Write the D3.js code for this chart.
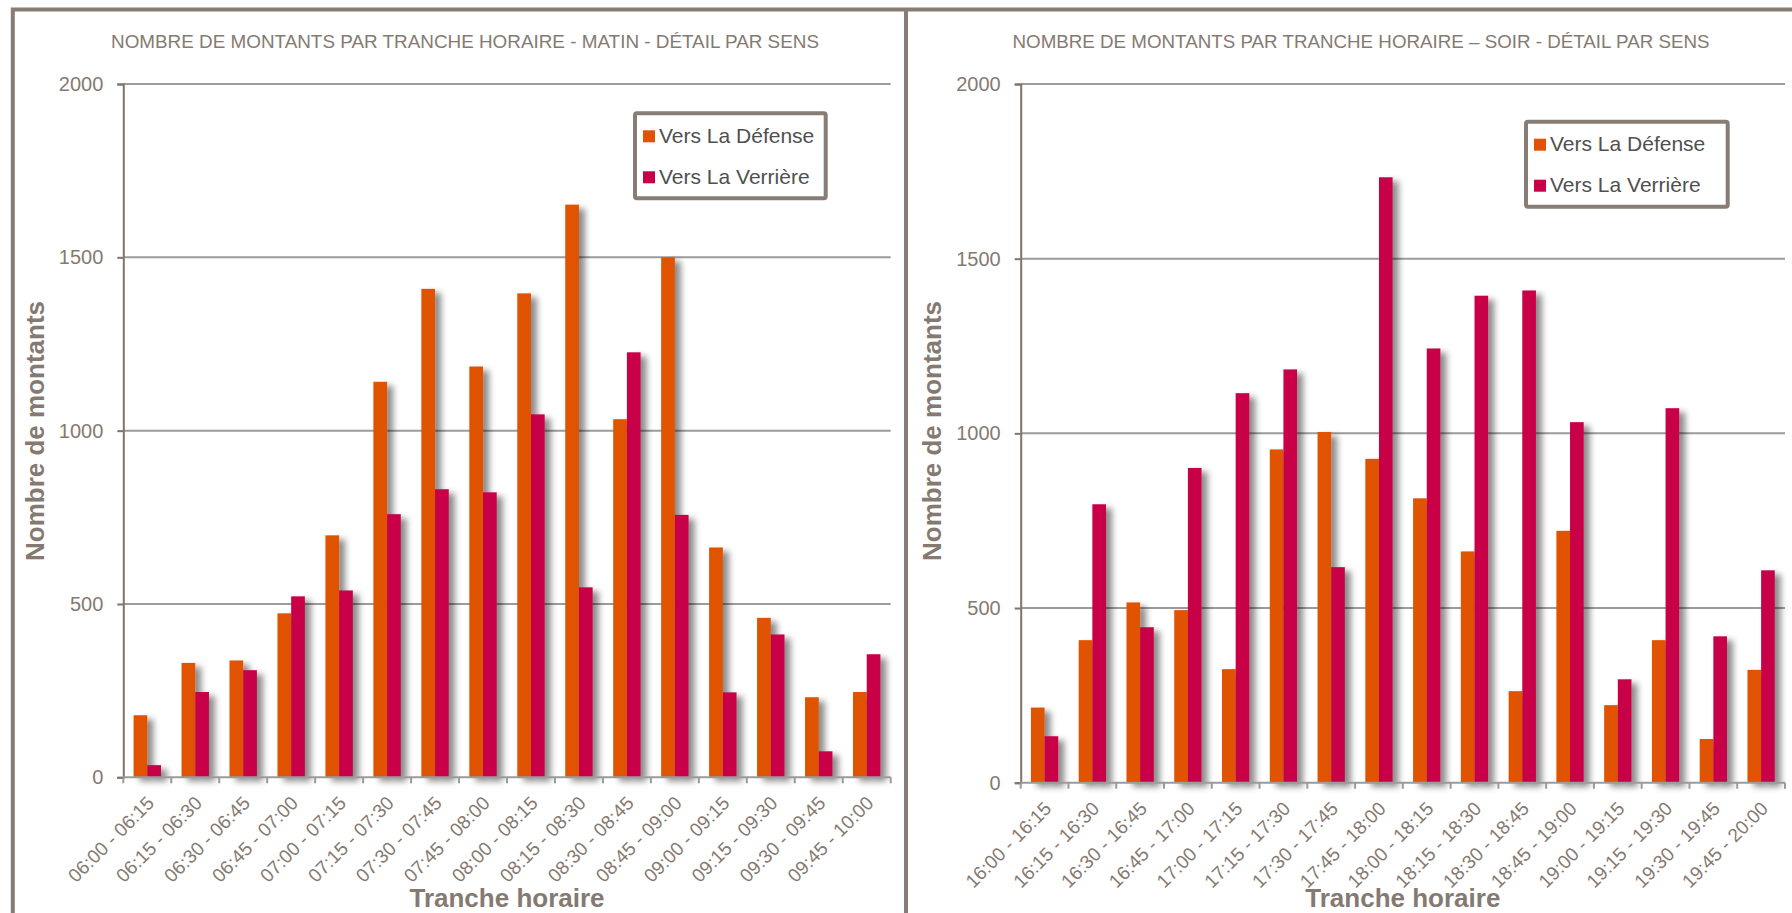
<!DOCTYPE html>
<html>
<head>
<meta charset="utf-8">
<script src="https://cdn.jsdelivr.net/npm/d3@7"></script>
<style>
  html, body { margin: 0; padding: 0; background: #ffffff; }
  svg { display: block; }
</style>
</head>
<body>
<svg id="chart" width="1792" height="913"></svg>
<script>
// Boardings per 15-minute slot, by direction
const seriesNames = ["Vers La Défense", "Vers La Verrière"];
const seriesColors = ["#e05206", "#c80046"];

const matinCategories = [
  "06:00 - 06:15", "06:15 - 06:30", "06:30 - 06:45", "06:45 - 07:00",
  "07:00 - 07:15", "07:15 - 07:30", "07:30 - 07:45", "07:45 - 08:00",
  "08:00 - 08:15", "08:15 - 08:30", "08:30 - 08:45", "08:45 - 09:00",
  "09:00 - 09:15", "09:15 - 09:30", "09:30 - 09:45", "09:45 - 10:00"
];
const matinDefense  = [179, 330, 337, 473, 698, 1141, 1409, 1185, 1396, 1652, 1033, 1500, 663, 460, 231, 246];
const matinVerriere = [35, 246, 309, 522, 539, 759, 831, 822, 1047, 548, 1226, 757, 245, 412, 75, 355];

const soirCategories = [
  "16:00 - 16:15", "16:15 - 16:30", "16:30 - 16:45", "16:45 - 17:00",
  "17:00 - 17:15", "17:15 - 17:30", "17:30 - 17:45", "17:45 - 18:00",
  "18:00 - 18:15", "18:15 - 18:30", "18:30 - 18:45", "18:45 - 19:00",
  "19:00 - 19:15", "19:15 - 19:30", "19:30 - 19:45", "19:45 - 20:00"
];
const soirDefense  = [215, 408, 516, 494, 325, 954, 1004, 927, 814, 662, 262, 721, 222, 408, 125, 323];
const soirVerriere = [133, 797, 445, 901, 1115, 1183, 617, 1733, 1243, 1394, 1409, 1032, 296, 1072, 419, 608];

const yTicks = [0, 500, 1000, 1500, 2000];
const yLabel = "Nombre de montants";
const xLabel = "Tranche horaire";
const titleMatin = "NOMBRE DE MONTANTS PAR TRANCHE HORAIRE - MATIN - DÉTAIL PAR SENS";
const titleSoir  = "NOMBRE DE MONTANTS PAR TRANCHE HORAIRE \u2013 SOIR - DÉTAIL PAR SENS";

const svg = d3.select("#chart");
const TEXT = "#857a71";
const FRAME = "#877d74";

// soft shadow cast to the right of every bar
const defs = svg.append("defs");
const f = defs.append("filter").attr("id", "barShadow")
  .attr("x", "-20%").attr("y", "-5%").attr("width", "180%").attr("height", "115%");
f.append("feDropShadow").attr("dx", 6).attr("dy", 4).attr("stdDeviation", 3)
  .attr("flood-color", "#000").attr("flood-opacity", 0.45);

// outer frames
svg.append("path")
  .attr("d", "M12.8,913 V9.5 H1800 M906,9.5 V913")
  .attr("fill", "none").attr("stroke", FRAME).attr("stroke-width", 4);

function drawPanel(p) {
  const g = svg.append("g");
  const x = d3.scaleBand().domain(p.categories).range([p.left, p.right]).padding(0);
  const sub = d3.scaleBand().domain([0, 1]).range([0, x.bandwidth()])
    .paddingInner(0).paddingOuter(0.75);
  const y = d3.scaleLinear().domain([0, 2000]).range([p.bottom, p.top]);

  // title
  g.append("text")
    .attr("x", p.titleX).attr("y", 48)
    .attr("text-anchor", "middle")
    .attr("font-family", "'Liberation Sans Narrow', 'Liberation Sans', Arial, sans-serif")
    .attr("font-size", 19).attr("fill", TEXT)
    .attr("textLength", p.titleW).attr("lengthAdjust", "spacingAndGlyphs")
    .text(p.title);

  // horizontal gridlines
  g.append("g").selectAll("line").data(yTicks.filter(d => d > 0)).join("line")
    .attr("x1", p.left).attr("x2", p.right)
    .attr("y1", d => y(d)).attr("y2", d => y(d))
    .attr("stroke", "#9b9b9b").attr("stroke-width", 2);

  // y axis
  const yAxis = d3.axisLeft(y).tickValues(yTicks).tickSize(6).tickPadding(14)
    .tickFormat(d3.format("d"));
  const ya = g.append("g").attr("transform", `translate(${p.left},0)`).call(yAxis);
  ya.select(".domain").attr("stroke", "#7f756c").attr("stroke-width", 2);
  ya.selectAll(".tick line").attr("stroke", "#7f756c").attr("stroke-width", 2);
  ya.selectAll(".tick text")
    .attr("font-family", "'Liberation Sans', Arial, sans-serif")
    .attr("font-size", 20).attr("fill", TEXT);

  // bars
  const series = [p.defense, p.verriere];
  series.forEach((vals, si) => {
    g.append("g").attr("filter", "url(#barShadow)")
      .selectAll("rect").data(p.categories.map((c, i) => ({ c, v: vals[i] }))).join("rect")
      .attr("x", d => x(d.c) + sub(si))
      .attr("width", sub.bandwidth())
      .attr("y", d => y(d.v))
      .attr("height", d => y(0) - y(d.v))
      .attr("fill", seriesColors[si]);
  });

  // x axis with boundary ticks
  const xa = g.append("g").attr("transform", `translate(0,${p.bottom})`);
  xa.append("line").attr("x1", p.left).attr("x2", p.right)
    .attr("stroke", "#9b9b9b").attr("stroke-width", 2);
  const bounds = p.categories.map(c => x(c)).concat([p.right]);
  xa.selectAll("line.tk").data(bounds).join("line").attr("class", "tk")
    .attr("x1", d => d).attr("x2", d => d).attr("y1", 0).attr("y2", 6)
    .attr("stroke", "#9b9b9b").attr("stroke-width", 2);
  xa.selectAll("text").data(p.categories).join("text")
    .attr("transform", d => `translate(${x(d) + x.bandwidth() / 2 + 8},${27}) rotate(-45)`)
    .attr("text-anchor", "end")
    .attr("font-family", "'Liberation Sans', Arial, sans-serif")
    .attr("font-size", 19).attr("fill", TEXT)
    .text(d => d);

  // axis titles
  g.append("text")
    .attr("x", (p.left + p.right) / 2).attr("y", 907)
    .attr("text-anchor", "middle")
    .attr("font-family", "'Liberation Sans', Arial, sans-serif")
    .attr("font-weight", "bold").attr("font-size", 26).attr("fill", TEXT)
    .text(xLabel);
  g.append("text")
    .attr("transform", `translate(${p.yLabelX},${431}) rotate(-90)`)
    .attr("text-anchor", "middle")
    .attr("font-family", "'Liberation Sans', Arial, sans-serif")
    .attr("font-weight", "bold").attr("font-size", 26).attr("fill", TEXT)
    .text(yLabel);

  // legend
  const lg = g.append("g").attr("transform", `translate(${p.legX},${p.legY})`);
  lg.append("rect").attr("x", 0).attr("y", 0).attr("width", p.legW).attr("height", 85)
    .attr("rx", 2).attr("fill", "#fff").attr("stroke", FRAME).attr("stroke-width", 4);
  seriesNames.forEach((name, i) => {
    lg.append("rect").attr("x", 8).attr("y", 17 + i * 41).attr("width", 12).attr("height", 12)
      .attr("fill", seriesColors[i]);
    lg.append("text").attr("x", 24).attr("y", 29.5 + i * 41)
      .attr("font-family", "'Liberation Sans', Arial, sans-serif")
      .attr("font-size", 21).attr("fill", "#505050")
      .text(name);
  });
}

drawPanel({
  categories: matinCategories, defense: matinDefense, verriere: matinVerriere,
  left: 123.3, right: 890.7, top: 84, bottom: 777.3,
  title: titleMatin, titleX: 465, titleW: 708,
  yLabelX: 44, legX: 635, legY: 113.3, legW: 190.7
});
drawPanel({
  categories: soirCategories, defense: soirDefense, verriere: soirVerriere,
  left: 1020.7, right: 1785, top: 84, bottom: 782.7,
  title: titleSoir, titleX: 1361, titleW: 697,
  yLabelX: 941, legX: 1526, legY: 121.7, legW: 201.7
});
</script>
</body>
</html>
